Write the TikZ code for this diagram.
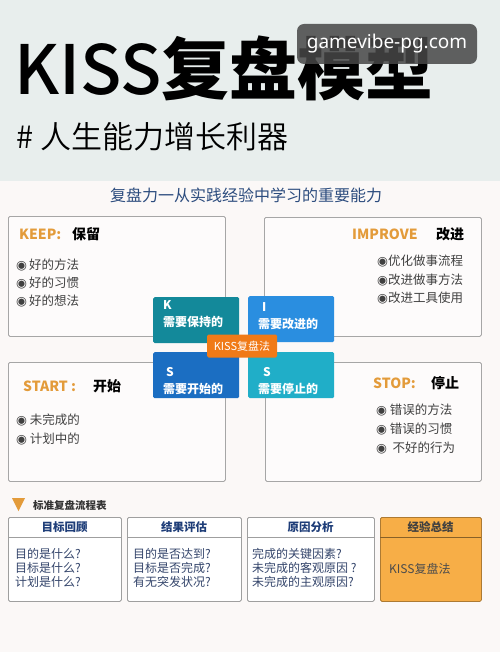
\documentclass[tikz,border=0pt]{standalone}
\usepackage{fontspec}
\setmainfont{Noto Sans CJK SC}
\newfontfamily\markfont{DejaVu Sans}
\newfontfamily\webfont{Noto Sans}
\newfontfamily\lightfont{Noto Sans CJK SC DemiLight}
\newfontfamily\medfont{Noto Sans CJK SC Medium}
\newcommand{\fsz}[1]{\fontsize{#1}{#1}\selectfont}
\newcommand{\dotmark}{{\markfont ◉}}

\definecolor{headbg}{HTML}{E8EEED}
\definecolor{pagebg}{HTML}{FBF8F7}
\definecolor{kisorange}{HTML}{E39B3A}
\definecolor{leadblue}{HTML}{2C4C7E}
\definecolor{kteal}{HTML}{13899A}
\definecolor{iblue}{HTML}{2A8EE0}
\definecolor{sblue}{HTML}{1B6EC2}
\definecolor{scyan}{HTML}{20AEC8}
\definecolor{hubor}{HTML}{F07A17}
\definecolor{tablehd}{HTML}{1E3D78}
\definecolor{tabletx}{HTML}{34456B}
\definecolor{sumfill}{HTML}{F7AE47}

\tikzset{
  bigbox/.style={draw=gray!70, fill=white!50!pagebg, rounded corners=1.5pt,
    line width=0.8pt, inner sep=0pt, anchor=north west},
  head/.style={font=\bfseries\fsz{14}, inner sep=0pt, anchor=west},
  item/.style={font=\fsz{12.5}, text=black!75, inner sep=0pt, anchor=west},
  tile/.style={rounded corners=1.5pt, inner sep=0pt, anchor=north west,
    minimum width=86, minimum height=46},
  tiletext/.style={font=\bfseries\fsz{12}, text=white, inner sep=0pt, anchor=west},
  tablebox/.style={draw=gray!75, fill=white, rounded corners=1.5pt,
    line width=0.8pt, inner sep=0pt, anchor=north west, minimum height=84},
  tablehead/.style={font=\bfseries\fsz{11.5}, text=tablehd, inner sep=0pt},
  tablebody/.style={font=\fontsize{12}{14.3}\selectfont, text=tabletx,
    align=left, inner sep=0pt, anchor=west}
}

\begin{document}
\begin{tikzpicture}[x=1pt, y=-1pt]
  \useasboundingbox (0,0) rectangle (500,652);
  % background
  \fill[pagebg] (0,0) rectangle (500,652);
  \fill[headbg] (0,0) rectangle (500,181);

  % title and subtitle
  \node[anchor=west, font=\fsz{68}, inner sep=0pt] (title) at (14,68)
    {{\medfont KISS}{\bfseries 复盘模型}};
  \node[anchor=west, font=\lightfont\fsz{31}, inner sep=0pt] (subtitle) at (16,137)
    {\# 人生能力增长利器};

  % watermark
  \node[fill=black!72, fill opacity=0.85, text opacity=1, rounded corners=7pt,
    text=white, font=\webfont\fsz{19}, minimum width=180, minimum height=40,
    inner sep=0pt] (mark) at (387,44) {gamevibe-pg.com};

  \node[font=\fsz{16}, text=leadblue, inner sep=0pt] (lead) at (246,195)
    {复盘力一从实践经验中学习的重要能力};

  % four quarters
  \node[bigbox, minimum width=217, minimum height=120] (keepbox) at (8,216) {};
  \node[bigbox, minimum width=217, minimum height=119] (impbox) at (264,217) {};
  \node[bigbox, minimum width=217, minimum height=119] (startbox) at (8,362) {};
  \node[bigbox, minimum width=216, minimum height=119] (stopbox) at (265,362) {};

  % KEEP
  \node[head, text=kisorange] (keephd) at (19,234) {KEEP:};
  \node[head] (keepcn) at (72,234) {保留};
  \foreach \t [count=\i] in {好的方法,好的习惯,好的想法}
    \node[item] (keep\i) at (16,246+18.5*\i) {\dotmark\,\t};

  % IMPROVE
  \node[head, text=kisorange] (imphd) at (352,234) {IMPROVE};
  \node[head] (impcn) at (436,234) {改进};
  \foreach \t [count=\i] in {优化做事流程,改进做事方法,改进工具使用}
    \node[item] (imp\i) at (377,243+18.5*\i) {\dotmark\t};

  % START
  \node[head, text=kisorange] (starthd) at (23,386) {START :};
  \node[head] (startcn) at (93,386) {开始};
  \foreach \t [count=\i] in {未完成的,计划中的}
    \node[item] (start\i) at (16,401+19*\i) {\dotmark\ \t};

  % STOP
  \node[head, text=kisorange] (stophd) at (373,383) {STOP:};
  \node[head] (stopcn) at (431,383) {停止};
  \foreach \t [count=\i] in {错误的方法,错误的习惯,\ 不好的行为}
    \node[item] (stop\i) at (376,391+19*\i) {\dotmark\ \t};

  % KISS tiles
  \foreach \nm/\x/\y/\col/\lx/\ly/\ltr/\txt in
    {ktile/153/297/kteal/163/305/K/需要保持的,
     itile/248/296/iblue/262/307/I/需要改进的,
     stile/153/352/sblue/166/372/S/需要开始的,
     ptile/248/352/scyan/263/372/S/需要停止的}{
    \node[tile, fill=\col] (\nm) at (\x,\y) {};
    \node[tiletext] (\nm-l) at (\lx,\ly) {\ltr};
    \node[tiletext] (\nm-t) at (\x+10,\ly+17) {\txt};
  }
  \node[fill=hubor, rounded corners=1.5pt, minimum width=70, minimum height=23,
    inner sep=0pt, text=white, font=\fsz{11}] (hub) at (242,346) {KISS复盘法};

  % standard flow table
  \fill[kisorange] (12,498) -- (25,498) -- (18.5,511) -- cycle;
  \node[anchor=west, font=\bfseries\fsz{10.5}, text=black!80, inner sep=0pt] (flowhd)
    at (33,505) {标准复盘流程表};
  \foreach \nm/\x/\w/\hd in {review/8/113/目标回顾, result/127/114/结果评估,
                             cause/247/127/原因分析}{
    \node[tablebox, minimum width=\w] (\nm) at (\x,517) {};
    \draw[gray!75, line width=0.8pt] (\x,537) -- (\x+\w,537);
    \node[tablehead] (\nm-h) at (\x+\w/2,527) {\hd};
  }
  \node[tablebody] (review-b) at (15,568) {目的是什么?\\目标是什么?\\计划是什么?};
  \node[tablebody] (result-b) at (133,568) {目的是否达到?\\目标是否完成?\\有无突发状况?};
  \node[tablebody] (cause-b) at (252,568)
    {完成的关键因素?\\未完成的客观原因 ?\\未完成的主观原因?};

  \node[tablebox, fill=sumfill, draw=sumfill!70!black, minimum width=101] (sum) at (380,517) {};
  \draw[sumfill!55!black, line width=0.8pt] (380,537) -- (481,537);
  \node[tablehead, text=black!75] (sum-h) at (430.5,527) {经验总结};
  \node[tablebody, text=black!70] (sum-b) at (389,569) {KISS复盘法};
\end{tikzpicture}
\end{document}
